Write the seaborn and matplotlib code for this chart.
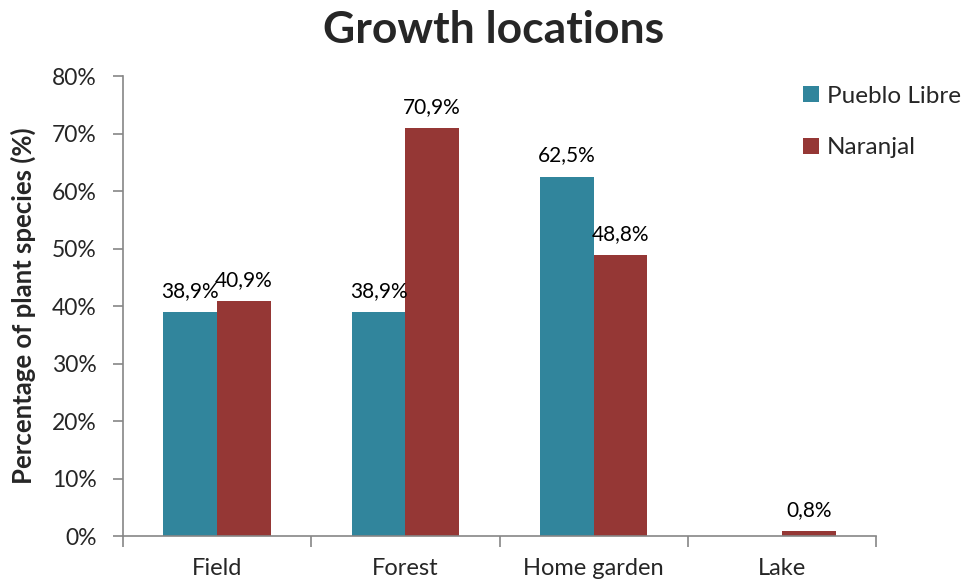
import matplotlib
matplotlib.use("Agg")
import matplotlib.pyplot as plt
import seaborn as sns
import pandas as pd
from matplotlib.ticker import FixedLocator, PercentFormatter

# Share of plant species by growth location, per community (%)
locations = ["Field", "Forest", "Home garden", "Lake"]
pueblo_libre = [38.9, 38.9, 62.5, 0.0]
naranjal = [40.9, 70.9, 48.8, 0.8]
series = ["Pueblo Libre", "Naranjal"]
colors = ["#31859C", "#953735"]
y_ticks = [0, 10, 20, 30, 40, 50, 60, 70, 80]

df = pd.DataFrame({
    "location": locations * 2,
    "value": pueblo_libre + naranjal,
    "site": [series[0]] * len(locations) + [series[1]] * len(locations),
})

sns.set_style("white")
plt.rcParams["font.family"] = ["Lato", "DejaVu Sans"]

fig = plt.figure(figsize=(9.63, 5.83), dpi=100)
ax = fig.add_axes([0.1277, 0.0806, 0.782, 0.789])

sns.barplot(data=df, x="location", y="value", hue="site", order=locations,
            hue_order=series, palette=colors, width=0.57, saturation=1,
            edgecolor="none", ax=ax)

# value labels above each bar
for cont in ax.containers:
    labels = [("%.1f%%" % v).replace(".", ",") if v > 0 else "" for v in cont.datavalues]
    ax.bar_label(cont, labels=labels, padding=8, fontsize=15, color="#000000")

ax.set_xlim(-0.5, len(locations) - 0.5)
ax.set_ylim(0, 80)
ax.set_yticks(y_ticks)
ax.yaxis.set_major_formatter(PercentFormatter(decimals=0))

spine_col = "#868686"
for side in ["top", "right"]:
    ax.spines[side].set_visible(False)
for side in ["left", "bottom"]:
    ax.spines[side].set_color(spine_col)
    ax.spines[side].set_linewidth(1.2)

ax.tick_params(axis="y", which="major", direction="out", length=7, width=1.2,
               color=spine_col, labelsize=16.5, left=True, pad=12)
# category separators as minor ticks on the x axis
ax.xaxis.set_minor_locator(FixedLocator([i - 0.5 for i in range(len(locations) + 1)]))
ax.tick_params(axis="x", which="major", length=0, labelsize=17, pad=16)
ax.tick_params(axis="x", which="minor", direction="out", length=8, width=1.2,
               color=spine_col, bottom=True)

ax.set_xlabel("")
ax.set_ylabel("Percentage of plant species (%)", fontsize=18.5, fontweight="bold")
ax.yaxis.set_label_coords(-0.1155, 0.5)
fig.text(0.513, 1 - 30 / 583, "Growth locations", fontsize=32, fontweight="bold",
         ha="center", va="center")

handles, labs = ax.get_legend_handles_labels()
ax.legend(handles, labs, loc="upper left", bbox_to_anchor=(0.834, 0.8525),
          bbox_transform=fig.transFigure, frameon=False, fontsize=17.5,
          handlelength=0.64, handleheight=0.64, handletextpad=0.34,
          labelspacing=1.25, borderaxespad=0, borderpad=0)

fig.savefig("out.png", dpi=100)
